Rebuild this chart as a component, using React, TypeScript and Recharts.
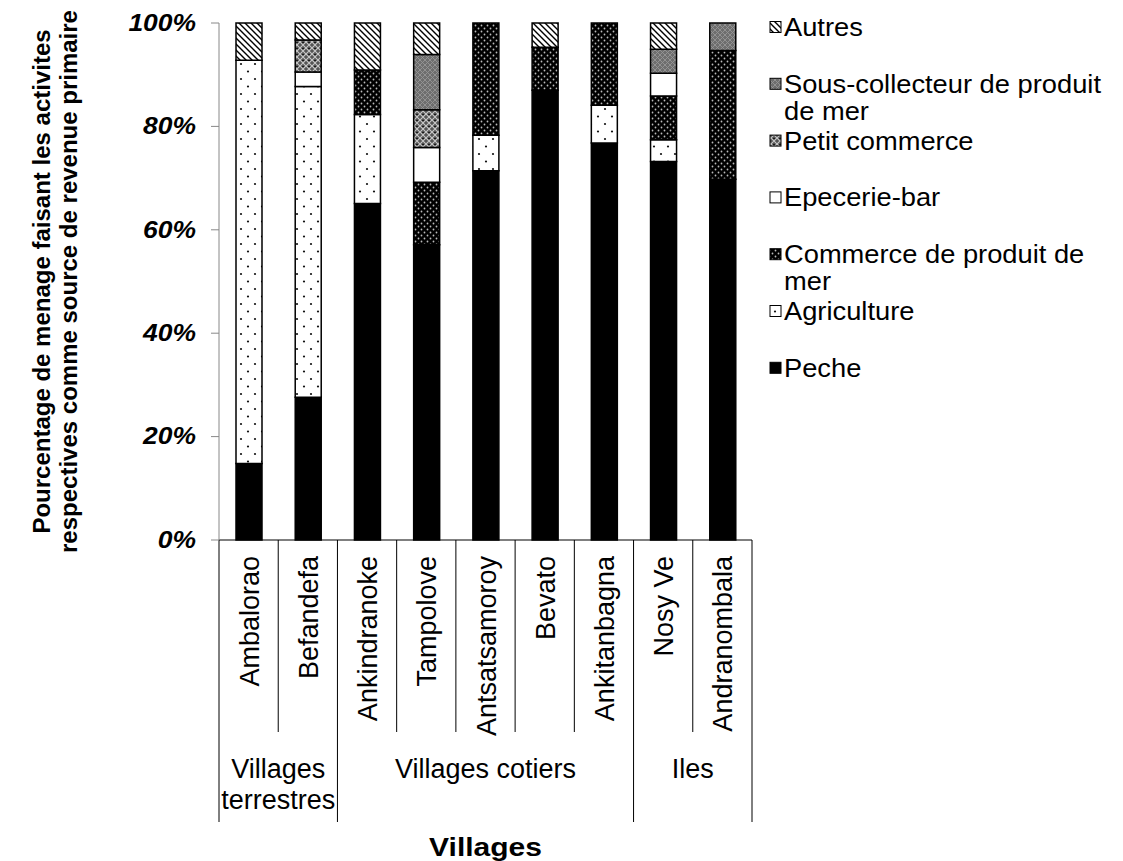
import React from "react";
import { BarChart, Bar, XAxis, YAxis, Legend, Label } from "recharts";

// villages and their group (index into groupLabels)
const villages = [
  "Ambalorao",
  "Befandefa",
  "Ankindranoke",
  "Tampolove",
  "Antsatsamoroy",
  "Bevato",
  "Ankitanbagna",
  "Nosy Ve",
  "Andranombala",
];
const villageGroup = [0, 0, 1, 1, 1, 1, 1, 2, 2];
const groupLabels = ["Villages\nterrestres", "Villages cotiers", "Iles"];

// % of households per primary income activity
const peche = [14.8, 27.6, 65.1, 57.1, 71.4, 87.0, 76.8, 73.2, 69.8];
const agriculture = [78.0, 60.1, 17.2, 0, 6.9, 0, 7.3, 4.2, 0];
const commerceMer = [0, 0, 8.6, 12.1, 21.7, 8.3, 15.9, 8.5, 24.9];
const epicerie = [0, 2.8, 0, 6.7, 0, 0, 0, 4.4, 0];
const petitCommerce = [0, 6.2, 0, 7.3, 0, 0, 0, 0, 0];
const sousCollecteur = [0, 0, 0, 10.7, 0, 0, 0, 4.6, 5.3];
const autres = [7.2, 3.3, 9.1, 6.1, 0, 4.7, 0, 5.1, 0];

const yTicks = [0, 20, 40, 60, 80, 100];

// stack order bottom -> top
const series = [
  { key: "peche", name: "Peche", fill: "#000000" },
  { key: "agriculture", name: "Agriculture", fill: "url(#pAgri)" },
  { key: "commerceMer", name: "Commerce de produit de\nmer", fill: "url(#pComm)" },
  { key: "epicerie", name: "Epecerie-bar", fill: "#ffffff" },
  { key: "petitCommerce", name: "Petit commerce", fill: "url(#pPetit)" },
  { key: "sousCollecteur", name: "Sous-collecteur de produit\nde mer", fill: "url(#pSous)" },
  { key: "autres", name: "Autres", fill: "url(#pAutres)" },
];

const data = villages.map((v, i) => ({
  village: v,
  peche: peche[i],
  agriculture: agriculture[i],
  commerceMer: commerceMer[i],
  epicerie: epicerie[i],
  petitCommerce: petitCommerce[i],
  sousCollecteur: sousCollecteur[i],
  autres: autres[i],
}));

const FONT = "'Liberation Sans', Arial, sans-serif";
const W = 1123;
const H = 861;
const PLOT_LEFT = 219;
const PLOT_RIGHT = 752;
const PLOT_TOP = 23;
const AXIS_Y = 540;
const BW = (PLOT_RIGHT - PLOT_LEFT) / villages.length;
const LEGEND_LEFT = 765;
const LEGEND_W = 355;

const YTick = ({ y, payload }: any) => (
  <g>
    <line x1={PLOT_LEFT - 8} x2={PLOT_LEFT} y1={y} y2={y} stroke="#888" />
    <text
      transform={`translate(196,${y}) scale(1.15,1)`}
      textAnchor="end"
      dominantBaseline="central"
      fontFamily={FONT}
      fontSize={23}
      fontWeight="bold"
      fontStyle="italic"
      fill="#000"
    >
      {payload.value}%
    </text>
  </g>
);

const XTick = ({ x, index, payload }: any) => {
  const g = villageGroup[index];
  const groupStart = index === 0 || villageGroup[index - 1] !== g;
  const isLast = index === villages.length - 1;
  const left = x - BW / 2;
  const size = villageGroup.filter((v) => v === g).length;
  const lines = groupLabels[g].split("\n");
  return (
    <g fontFamily={FONT}>
      <line x1={left} x2={left} y1={AXIS_Y} y2={groupStart ? 822 : 732} stroke="#000" />
      {isLast && <line x1={x + BW / 2} x2={x + BW / 2} y1={AXIS_Y} y2={822} stroke="#000" />}
      <text
        transform={`translate(${x + 10},${AXIS_Y + 16}) rotate(-90)`}
        textAnchor="end"
        fontSize={27}
        fill="#000"
      >
        {payload.value}
      </text>
      {groupStart &&
        lines.map((l, k) => (
          <text
            key={k}
            x={left + (size * BW) / 2}
            y={778 + k * 31}
            textAnchor="middle"
            fontSize={27}
            fill="#000"
          >
            {l}
          </text>
        ))}
    </g>
  );
};

const LegendContent = () => {
  const items = [...series].reverse();
  return (
    <svg width={LEGEND_W} height={420} style={{ display: "block" }}>
      {items.map((s, i) => {
        const cy = 27 + i * 56.8;
        const lines = s.name.split("\n");
        return (
          <g key={s.key}>
            <rect
              x={770 - LEGEND_LEFT}
              y={cy - 5.5}
              width={11}
              height={11}
              fill={s.fill}
              stroke="#000"
              strokeWidth={1}
            />
            {lines.map((l, k) => (
              <text
                key={k}
                transform={`translate(${784 - LEGEND_LEFT},${cy + 9 + k * 27}) scale(1.05,1)`}
                fontFamily={FONT}
                fontSize={26}
                fill="#000"
              >
                {l}
              </text>
            ))}
          </g>
        );
      })}
    </svg>
  );
};

export default function App() {
  return (
    <div style={{ position: "absolute", left: 0, top: 0, width: W, height: H, background: "#fff" }}>
      <BarChart
        width={W}
        height={H}
        data={data}
        margin={{ top: PLOT_TOP, right: W - PLOT_RIGHT - LEGEND_W, bottom: 0, left: 0 }}
        barSize={26}
      >
        <defs>
          <pattern id="pAgri" width="14" height="15" patternUnits="userSpaceOnUse">
            <rect width="14" height="15" fill="#fff" />
            <circle cx="3" cy="4" r="1.1" fill="#111" />
            <circle cx="10" cy="11.5" r="1.1" fill="#111" />
          </pattern>
          <pattern id="pComm" width="6" height="6" patternUnits="userSpaceOnUse">
            <rect width="6" height="6" fill="#000" />
            <circle cx="1.5" cy="1.5" r="0.9" fill="#bbb" />
            <circle cx="4.5" cy="4.5" r="0.9" fill="#bbb" />
          </pattern>
          <pattern id="pPetit" width="6" height="6" patternUnits="userSpaceOnUse">
            <rect width="6" height="6" fill="#555" />
            <path d="M0,0 L6,6 M6,0 L0,6" stroke="#c8c8c8" strokeWidth="1.1" />
            <rect x="2.3" y="0" width="1.4" height="1" fill="#000" />
          </pattern>
          <pattern id="pSous" width="5" height="5" patternUnits="userSpaceOnUse">
            <rect width="5" height="5" fill="#6e6e6e" />
            <path d="M0,0 L5,5 M5,0 L0,5" stroke="#959595" strokeWidth="0.9" />
          </pattern>
          <pattern id="pAutres" width="6" height="6" patternUnits="userSpaceOnUse">
            <rect width="6" height="6" fill="#fff" />
            <path d="M0,0 L6,6 M-1,5 L1,7 M5,-1 L7,1" stroke="#000" strokeWidth="1.4" />
          </pattern>
        </defs>
        <XAxis
          dataKey="village"
          height={H - AXIS_Y}
          interval={0}
          tickLine={false}
          axisLine={{ stroke: "#000" }}
          tick={<XTick />}
        >
          <Label
            content={() => (
              <text
                transform={`translate(${(PLOT_LEFT + PLOT_RIGHT) / 2},856) scale(1.2,1)`}
                textAnchor="middle"
                fontFamily={FONT}
                fontSize={25}
                fontWeight="bold"
                fill="#000"
              >
                Villages
              </text>
            )}
          />
        </XAxis>
        <YAxis
          width={PLOT_LEFT}
          domain={[0, 100]}
          ticks={yTicks}
          tickLine={false}
          axisLine={{ stroke: "#888" }}
          tick={<YTick />}
        >
          <Label
            content={() => (
              <g fontFamily={FONT} fontSize={24} fontWeight="bold" fill="#000">
                <text
                  transform={`translate(50,${(PLOT_TOP + AXIS_Y) / 2}) rotate(-90)`}
                  textAnchor="middle"
                >
                  Pourcentage de menage faisant les activites
                </text>
                <text
                  transform={`translate(77,${(PLOT_TOP + AXIS_Y) / 2}) rotate(-90)`}
                  textAnchor="middle"
                >
                  respectives comme source de revenue primaire
                </text>
              </g>
            )}
          />
        </YAxis>
        <Legend
          layout="vertical"
          align="right"
          verticalAlign="top"
          wrapperStyle={{ left: LEGEND_LEFT, top: 0, width: LEGEND_W }}
          content={<LegendContent />}
        />
        {series.map((s) => (
          <Bar
            key={s.key}
            dataKey={s.key}
            name={s.name}
            stackId="a"
            fill={s.fill}
            stroke="#000"
            strokeWidth={1.5}
            isAnimationActive={false}
          />
        ))}
      </BarChart>
    </div>
  );
}
